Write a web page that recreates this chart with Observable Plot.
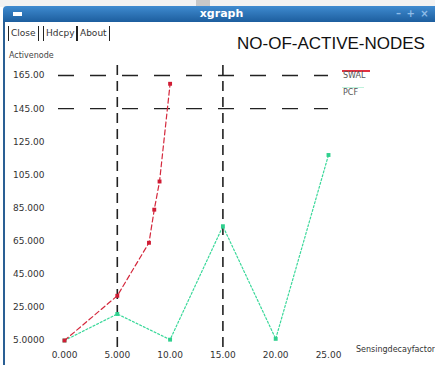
<!DOCTYPE html>
<html><head><meta charset="utf-8">
<script src="https://cdn.jsdelivr.net/npm/d3@7"></script>
<script src="https://cdn.jsdelivr.net/npm/@observablehq/plot@0.6"></script>
<style>
body{margin:0;width:435px;height:365px;overflow:hidden;background:#fff;position:relative;font-family:"DejaVu Sans",sans-serif}
.abs{position:absolute;white-space:nowrap}
#chart{position:absolute;left:0;top:0}
.btn{position:absolute;top:26px;height:15px;border-left:1px solid #222;border-right:1px solid #222;font-size:9px;line-height:15px;color:#333;padding:0 2px}
</style></head><body>
<div class="abs" style="left:0;top:0;width:435px;height:7px;background:#f2f2f2"></div>
<div class="abs" style="left:196px;top:0;width:14px;height:7px;background:#c8c8c8"></div>
<div class="abs" style="left:3px;top:6px;width:432px;height:16px;background:linear-gradient(#3f8bd0,#1d5e9e);border-top-left-radius:4px"></div>
<div class="abs" style="left:13px;top:12px;width:9px;height:4px;background:#fff"></div>
<div class="abs" style="left:0;width:435px;top:7px;text-align:center;color:#fff;font-weight:bold;font-size:11px;line-height:14px;padding-left:4px">xgraph</div>
<div class="abs" style="left:396px;top:7px;color:#8fbde8;font-size:10px;line-height:14px;font-weight:bold;letter-spacing:1px">– + ×</div>
<div class="abs" style="left:3px;top:22px;width:2px;height:343px;background:#2a5f94"></div>
<div id="chart"></div>
<div class="btn" style="left:8px">Close</div>
<div class="btn" style="left:43px">Hdcpy</div>
<div class="btn" style="left:77px">About</div>
<div class="abs" style="left:9px;top:51px;font-size:8px;color:#444">Activenode</div>
<div class="abs" style="left:237px;top:34px;font-family:'Liberation Sans',Arial,sans-serif;font-size:17px;color:#111">NO-OF-ACTIVE-NODES</div>
<div class="abs" style="left:342px;top:70px;width:28px;height:1.5px;background:#e03040"></div>
<div class="abs" style="left:343px;top:71px;font-size:8px;color:#555">SWAL</div>
<div class="abs" style="left:342px;top:87px;width:22px;height:1px;background:#bff2dc"></div>
<div class="abs" style="left:343px;top:88px;font-size:8px;color:#555">PCF</div>
<div class="abs" style="left:356px;top:345px;font-size:8px;color:#333">Sensingdecayfactor</div>
<script>
// data
const xValues = [0, 5, 10, 15, 20, 25];
const pcfY = [5, 21, 5.5, 74, 6, 117];
const swalX = [0, 5, 8, 8.5, 9, 10];
const swalY = [5, 32, 64, 84, 101, 160];
const yTicks = [5, 25, 45, 65, 85, 105, 125, 145, 165];
const xTicks = [0, 5, 10, 15, 20, 25];
const gridX = [5, 15];
const gridY = [145, 165];

const swal = swalX.map((x, i) => ({x, y: swalY[i]}));
const pcf = xValues.map((x, i) => ({x, y: pcfY[i]}));

const chart = Plot.plot({
  width: 435, height: 365,
  marginLeft: 64, marginRight: 107, marginTop: 75, marginBottom: 25,
  x: {domain: [0, 25]},
  y: {domain: [5, 165]},
  style: {fontFamily: "DejaVu Sans", fontSize: "9px", color: "#333", background: "transparent", overflow: "visible"},
  marks: [
    Plot.ruleX(gridX, {stroke: "#222", strokeWidth: 1.6, strokeDasharray: "10,6", insetTop: -10, insetBottom: -10}),
    Plot.ruleY(gridY, {stroke: "#222", strokeWidth: 1.4, strokeDasharray: "16,16", insetLeft: -6}),
    Plot.axisY(yTicks, {tickSize: 0, tickPadding: 20, tickFormat: d => d.toPrecision(5), label: null}),
    Plot.axisX(xTicks, {tickSize: 0, tickPadding: 11, tickFormat: d => d.toPrecision(4), label: null}),
    Plot.line(pcf, {x: "x", y: "y", stroke: "#3ad89a", strokeWidth: 1.2, strokeDasharray: "2,2"}),
    Plot.dot(pcf, {x: "x", y: "y", symbol: "square", r: 2.2, fill: "#2fd08e"}),
    Plot.line(swal, {x: "x", y: "y", stroke: "#d4283c", strokeWidth: 1.2, strokeDasharray: "5,3"}),
    Plot.dot(swal, {x: "x", y: "y", symbol: "square", r: 2.2, fill: "#d01c34"})
  ]
});
document.getElementById("chart").appendChild(chart);
</script>
</body></html>
